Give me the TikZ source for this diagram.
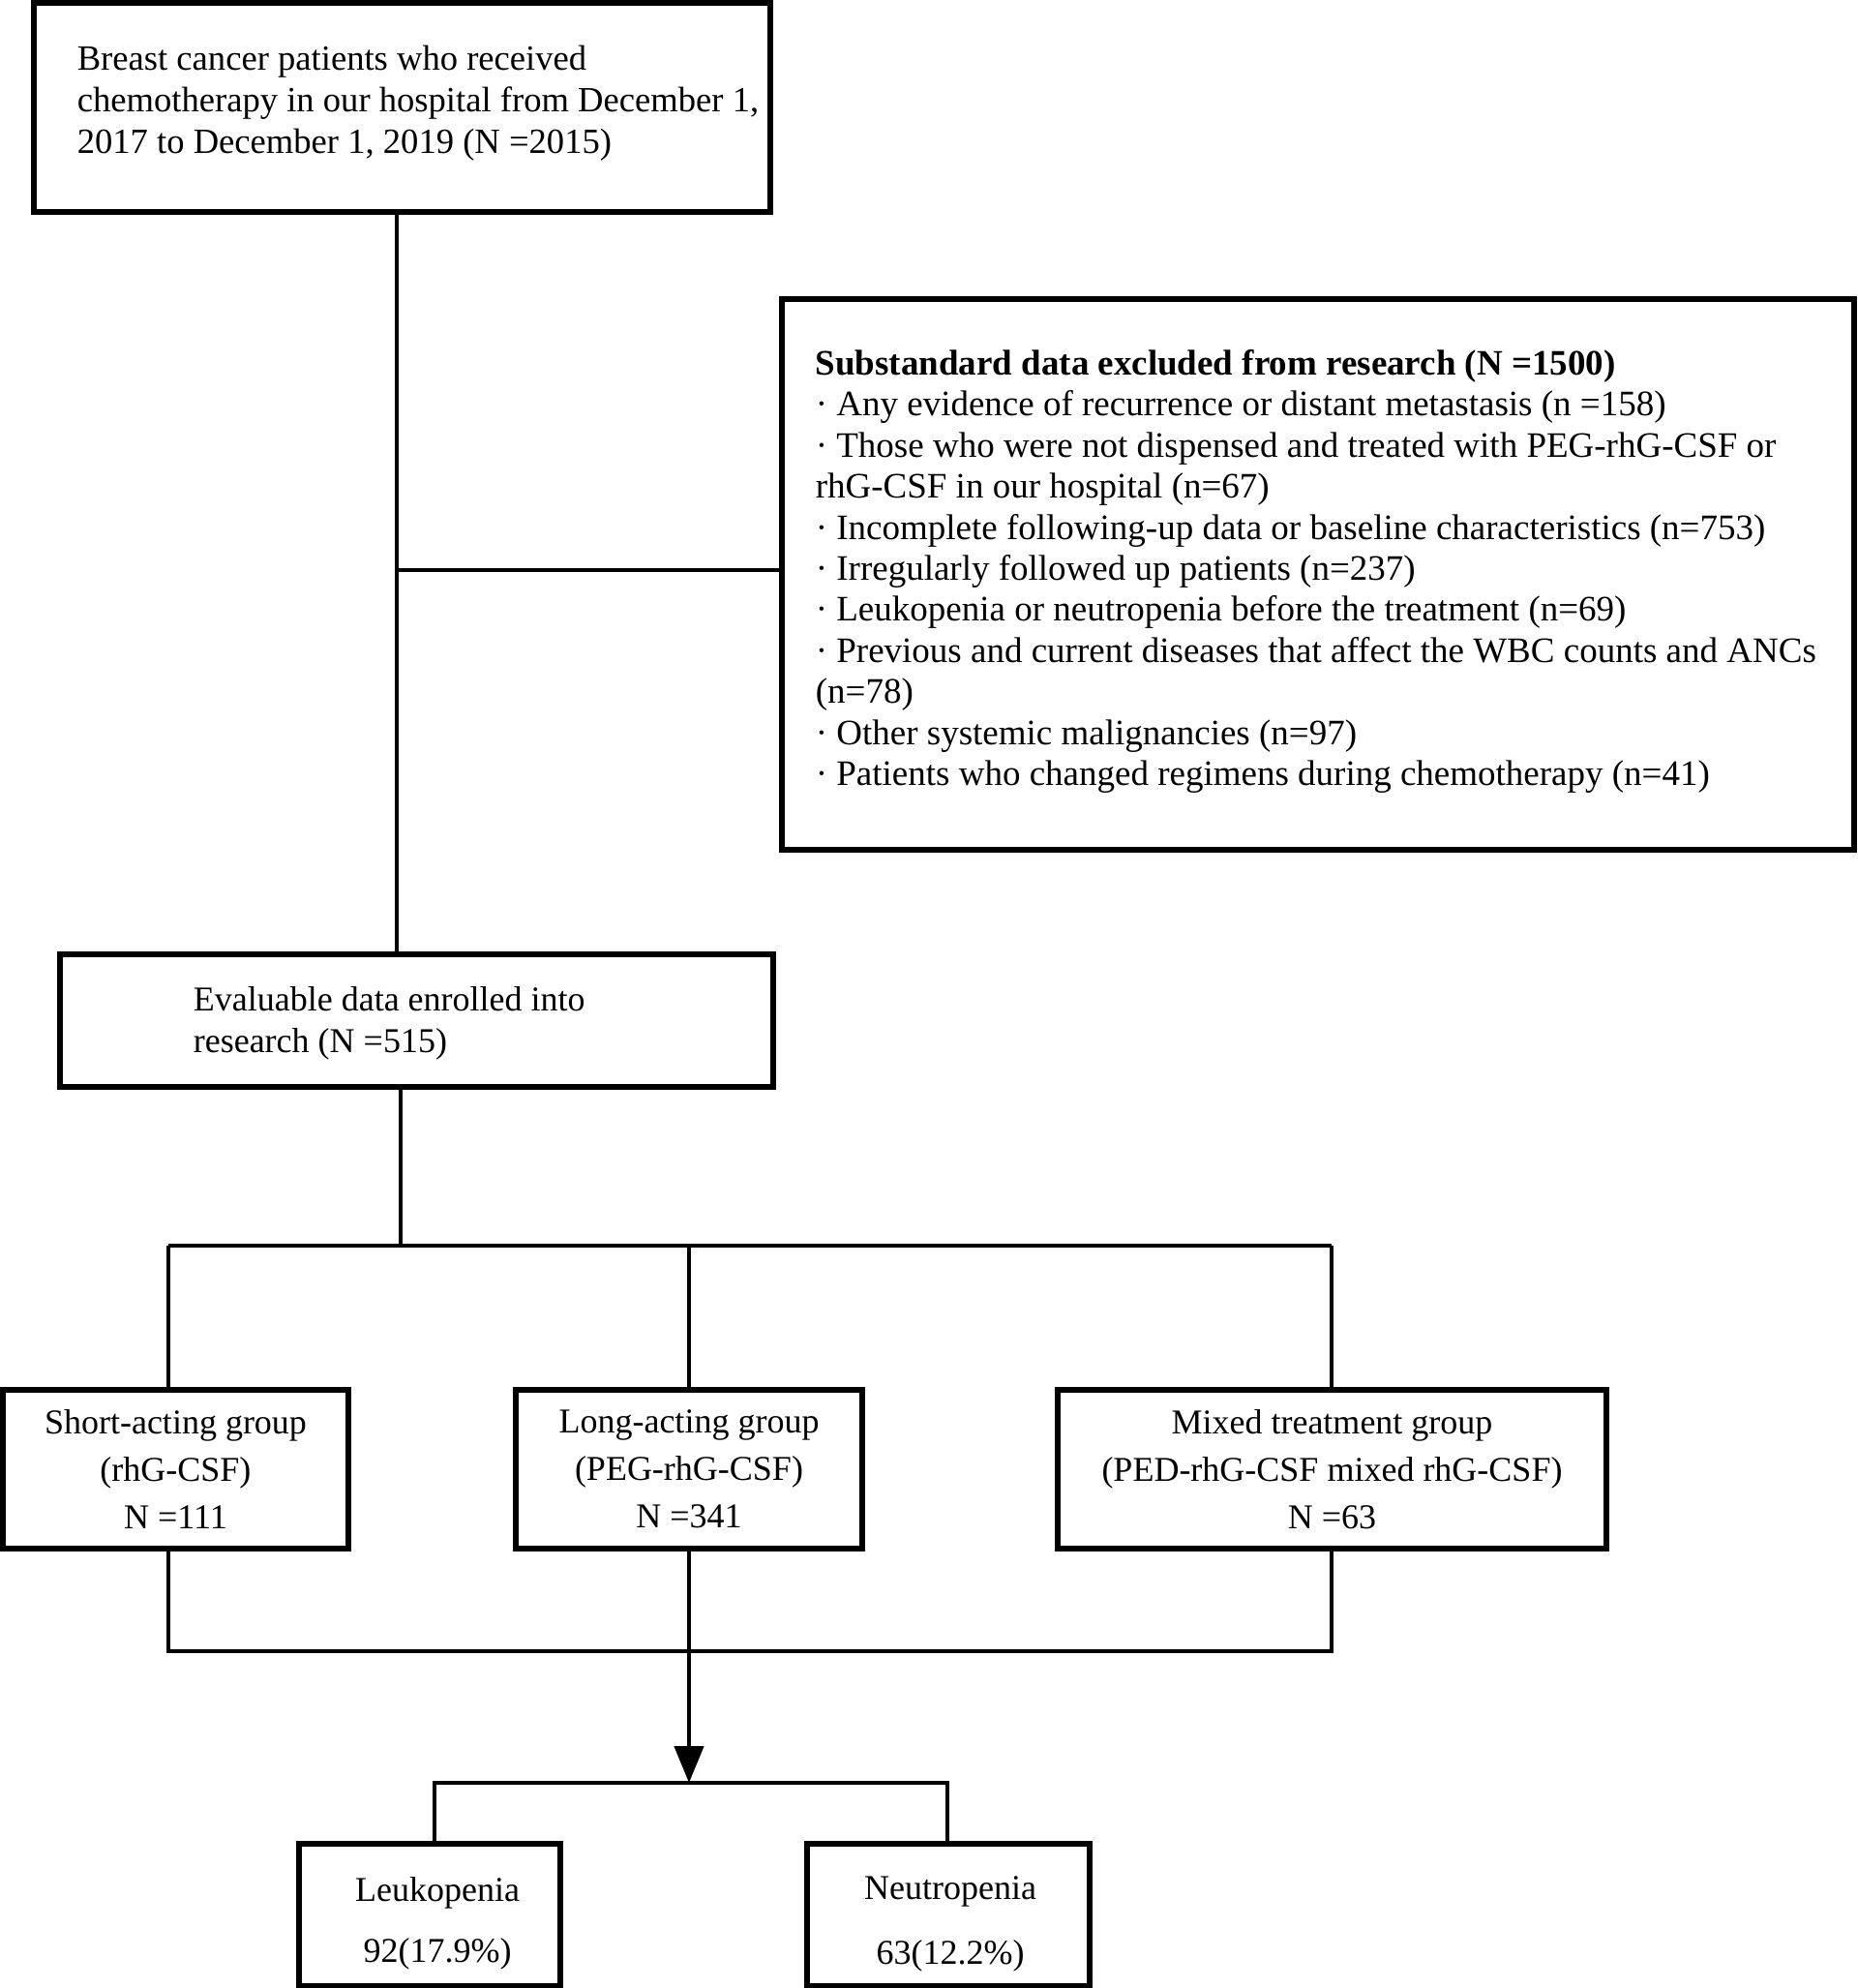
\documentclass[tikz,border=0pt]{standalone}
\usepackage{fontspec}
\setmainfont{Liberation Serif}
\usetikzlibrary{arrows.meta,positioning}
\newlength{\lw}
\setlength{\lw}{2.4pt}
\tikzstyle{every picture}+=[line width=\lw]
\tikzstyle{every picture}+=[>={Triangle[length=19pt,width=15pt]}]
\tikzstyle{every picture}+=[x=1pt,y=-1pt]
\tikzstyle{every node}+=[font=\fontsize{18}{21.2}\selectfont]
\tikzstyle{box}+=[draw, line width=2.6pt, inner sep=0pt]
\tikzstyle{txt}+=[align=left, inner sep=0pt, anchor=west]
\tikzstyle{grp}+=[box, align=center, font=\fontsize{18}{24.5}\selectfont]
\newcommand{\dn}[1]{\raisebox{-4.5pt}[\height][\depth]{#1}}

\begin{document}
\begin{tikzpicture}
\useasboundingbox (0,0) rectangle (959.5,1027);

% boxes
\node[box, minimum width=380.5pt, minimum height=108pt] (src) at (207.75,55.5) {};
\node[txt, font=\fontsize{18.3}{21.4}\selectfont] (srctext) at ([xshift=22.5pt,yshift=2pt]src.west)
  {Breast cancer patients who received\\
   chemotherapy in our hospital from December 1,\\
   2017 to December 1, 2019 (N =2015)};
\node[box, minimum width=554pt, minimum height=284.5pt] (excl) at (681,296.75) {};
\node[txt, font=\fontsize{18.5}{21.2}\selectfont] (excltext) at ([xshift=17.5pt,yshift=1.5pt]excl.west)
  {\textbf{Substandard data excluded from research (N =1500)}\\
   · Any evidence of recurrence or distant metastasis (n =158)\\
   · Those who were not dispensed and treated with PEG-rhG-CSF or\\
   rhG-CSF in our hospital (n=67)\\
   · Incomplete following-up data or baseline characteristics (n=753)\\
   · Irregularly followed up patients (n=237)\\
   · Leukopenia or neutropenia before the treatment (n=69)\\
   · Previous and current diseases that affect the WBC counts and ANCs\\
   (n=78)\\
   · Other systemic malignancies (n=97)\\
   · Patients who changed regimens during chemotherapy (n=41)};
\node[box, minimum width=368.5pt, minimum height=68.5pt] (eval) at (215.25,527.25) {};
\node[txt] (evaltext) at ([xshift=69pt,yshift=-1.5pt]eval.west)
  {Evaluable data enrolled into\\research (N =515)};

\node[grp, minimum width=178.5pt, minimum height=82pt] (short) at (90.75,759)
  {Short-acting group\\(rhG-CSF)\\N =111};
\node[grp, minimum width=179pt, minimum height=82pt] (long) at (356,759)
  {Long-acting group\\(PEG-rhG-CSF)\\N =341};
\node[grp, minimum width=283.5pt, minimum height=82pt] (mixed) at (688.25,759)
  {Mixed treatment group\\(PED-rhG-CSF mixed rhG-CSF)\\N =63};

\node[grp, minimum width=135pt, minimum height=73.5pt] (leuk) at (222,989.25)
  {\hspace*{8pt}\dn{Leukopenia}\\[7pt]\hspace*{8pt}\dn{92(17.9\%)}};
\node[grp, minimum width=146pt, minimum height=73.5pt] (neut) at (490,989.25)
  {\hspace*{2pt}\dn{Neutropenia}\\[9pt]\hspace*{2pt}\dn{63(12.2\%)}};

% connectors
\coordinate (j1) at (205,294.5);
\coordinate (j2) at (207,643.5);
\coordinate (s1) at (87,643.5);
\coordinate (s3) at (688,643.5);
\coordinate (m1) at (87,853);
\coordinate (m3) at (688,853);
\coordinate (d1) at (224.5,921);
\coordinate (d2) at (489.5,921);

\draw (src.south -| j1) -- (eval.north -| j1);
\draw (j1) -- (excl.west |- j1);
\draw (eval.south -| j2) -- (j2);
\draw (s1) -- (s3);
\draw (s1) -- (short.north -| s1);
\draw (long.north |- s1) -- (long.north);
\draw (s3) -- (mixed.north -| s3);
\draw (short.south -| m1) -- (m1) -- (m3) -- (mixed.south -| m3);
\draw (long.south) -- (long.south |- m1);
\draw[->] (long.south |- m1) -- (long.south |- d1);
\draw (leuk.north -| d1) -- (d1) -- (d2) -- (neut.north -| d2);
\end{tikzpicture}
\end{document}
